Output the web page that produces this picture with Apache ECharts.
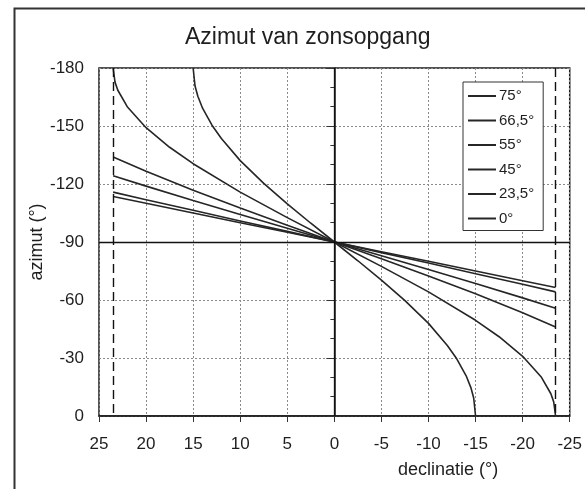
<!DOCTYPE html>
<html>
<head>
<meta charset="utf-8">
<script src="https://cdn.jsdelivr.net/npm/echarts@6/dist/echarts.min.js"></script>
<style>
 html, body { margin:0; padding:0; background:#fff; }
 #chart { width:585px; height:489px; }
</style>
</head>
<body>
<div id="chart"></div>
<script>
// declinatie (x) en azimut (y)
var declLin = [23.5, 20, 15, 10, 5, 0, -5, -10, -15, -20, -23.5];
var az0   = [-113.5, -110, -105, -100, -95, -90, -85, -80, -75, -70, -66.5];
var az235 = [-115.8, -111.9, -106.4, -100.9, -95.5, -90, -84.5, -79.1, -73.6, -68.1, -64.2];
var az45  = [-124.3, -118.9, -111.5, -104.2, -97.1, -90, -82.9, -75.8, -68.5, -61.1, -55.7];
var az55  = [-134.0, -126.6, -116.8, -107.6, -98.7, -90, -81.3, -72.4, -63.2, -53.4, -46.0];

var decl665 = [23.5, 23.3, 23, 22, 20, 17.5, 15, 10, 5, 0, -5, -10, -15, -17.5, -20, -22, -23, -23.3, -23.5];
var az665   = [-180, -172.7, -168.5, -160.0, -149.1, -139.0, -130.5, -115.8, -102.6, -90, -77.4, -64.2, -49.5, -41.0, -30.9, -20.0, -11.5, -7.3, 0];

var decl75 = [15, 14.8, 14.5, 14, 13, 12, 10, 7.5, 5, 2.5, 0, -2.5, -5, -7.5, -10, -12, -13, -14, -14.5, -14.8, -15];
var az75   = [-180, -170.7, -165.4, -159.2, -150.4, -143.5, -132.1, -120.3, -109.7, -99.7, -90, -80.3, -70.3, -59.7, -47.9, -36.5, -29.6, -20.8, -14.7, -9.3, 0];

var names = ['75°', '66,5°', '55°', '45°', '23,5°', '0°'];
var xTicks = [25, -25, 5];      // max, min, stap
var yTicks = [-180, 0, 30];

function pairs(xs, ys) {
    return xs.map(function (x, i) { return [x, ys[i]]; });
}

var curves = [
    pairs(decl75, az75),
    pairs(decl665, az665),
    pairs(declLin, az55),
    pairs(declLin, az45),
    pairs(declLin, az235),
    pairs(declLin, az0)
];

var font = 'Liberation Sans, Arial, sans-serif';
var ink = '#262626';

var series = curves.map(function (d, i) {
    return {
        name: names[i],
        type: 'line',
        data: d,
        symbol: 'none',
        smooth: false,
        lineStyle: { color: ink, width: 1.6 },
        itemStyle: { color: ink }
    };
});

// hulplijnen: as-kruis en keerkringen
series.push({
    type: 'line',
    data: [],
    silent: true,
    markLine: {
        symbol: 'none',
        silent: true,
        animation: false,
        label: { show: false },
        data: [
            { xAxis: 0, lineStyle: { color: '#111', width: 1.3, type: 'solid' } },
            { yAxis: -90, lineStyle: { color: '#111', width: 1.3, type: 'solid' } },
            { xAxis: 23.5, lineStyle: { color: '#111', width: 1.4, type: [9, 5] } },
            { xAxis: -23.5, lineStyle: { color: '#111', width: 1.4, type: [9, 5] } }
        ]
    }
});

var chart = echarts.init(document.getElementById('chart'));
chart.setOption({
    animation: false,
    backgroundColor: '#fff',
    textStyle: { fontFamily: font },
    title: {
        text: 'Azimut van zonsopgang',
        left: 180,
        top: 21,
        textStyle: { fontFamily: font, fontSize: 23, fontWeight: 'normal', color: '#1e1e1e' }
    },
    legend: {
        orient: 'vertical',
        left: 463,
        top: 82,
        data: names,
        icon: 'rect',
        itemWidth: 28,
        itemHeight: 2,
        itemGap: 8.5,
        padding: [6, 9, 4, 5],
        borderColor: '#333',
        borderWidth: 1,
        backgroundColor: '#fff',
        textStyle: { fontFamily: font, fontSize: 15, color: '#1e1e1e', lineHeight: 16, padding: [0, 0, 0, -2] }
    },
    grid: {
        left: 99, top: 68, right: 11, bottom: 73,
        show: true,
        borderColor: '#1a1a1a',
        borderWidth: 1.5
    },
    xAxis: {
        type: 'value',
        inverse: true,
        min: xTicks[1],
        max: xTicks[0],
        interval: xTicks[2],
        axisLine: { show: true, lineStyle: { color: '#1a1a1a', width: 1.5 } },
        axisTick: { show: true, inside: false, length: 6, lineStyle: { color: '#333' } },
        axisLabel: { fontFamily: font, fontSize: 17, color: '#1e1e1e', margin: 20 },
        splitLine: { show: true, lineStyle: { color: '#8a8a8a', type: [2, 2], width: 1 } }
    },
    yAxis: {
        type: 'value',
        inverse: true,
        min: yTicks[0],
        max: yTicks[1],
        interval: yTicks[2],
        name: 'azimut (°)',
        nameLocation: 'middle',
        nameGap: 53,
        nameMoveOverlap: false,
        nameTextStyle: { fontFamily: font, fontSize: 18, color: '#1e1e1e' },
        axisLine: { show: true, lineStyle: { color: '#1a1a1a', width: 1.5 } },
        axisTick: { show: true, inside: false, length: 8, lineStyle: { color: '#333' } },
        minorTick: { show: true, splitNumber: 3, length: 4, lineStyle: { color: '#333' } },
        axisLabel: { fontFamily: font, fontSize: 17, color: '#1e1e1e', margin: 15 },
        splitLine: { show: true, lineStyle: { color: '#8a8a8a', type: [2, 2], width: 1 } }
    },
    graphic: [
        {
            type: 'rect',
            left: 12, top: 6,
            shape: { width: 620, height: 520 },
            style: { fill: 'none', stroke: '#333', lineWidth: 2 },
            silent: true,
            z: -1
        },
        {
            type: 'text',
            left: 398, top: 461,
            style: { text: 'declinatie (°)', font: '18px ' + font, fill: '#1e1e1e' }
        }
    ],
    series: series
});
</script>
</body>
</html>
